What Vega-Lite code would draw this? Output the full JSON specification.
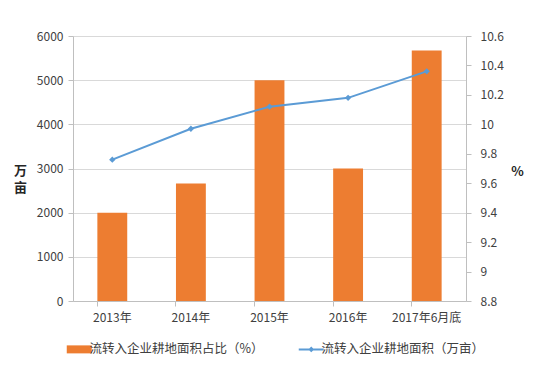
{
  "$schema": "https://vega.github.io/schema/vega-lite/v6.json",
  "width": 393,
  "height": 265,
  "autosize": {"type": "none"},
  "padding": {"left": 73, "top": 36, "right": 69, "bottom": 64},
  "background": "white",
  "config": {
    "view": {"stroke": null},
    "font": "Noto Sans CJK SC",
    "axis": {"labelFont": "Noto Sans CJK SC", "labelFontSize": 12, "labelColor": "#404040", "domainColor": "#bfbfbf", "tickColor": "#bfbfbf", "gridColor": "#d9d9d9", "titleColor": "#262626"},
    "legend": {"labelFont": "Noto Sans CJK SC", "labelFontSize": 12.5, "labelColor": "#404040", "labelLimit": 400}
  },
  "data": {
    "values": [
      {"year": "2013年", "area": 2000, "pct": 9.76},
      {"year": "2014年", "area": 2660, "pct": 9.97},
      {"year": "2015年", "area": 5000, "pct": 10.12},
      {"year": "2016年", "area": 3000, "pct": 10.18},
      {"year": "2017年6月底", "area": 5670, "pct": 10.36}
    ]
  },
  "encoding": {
    "x": {
      "field": "year", "type": "nominal", "sort": null,
      "scale": {"paddingInner": 0.62, "paddingOuter": 0.31},
      "axis": {"title": null, "labelAngle": 0, "bandPosition": 0, "tickSize": 5, "labelPadding": 6, "grid": false, "labelOffset": 0}
    }
  },
  "layer": [
    {
      "mark": {"type": "bar"},
      "encoding": {
        "y": {
          "field": "area", "type": "quantitative",
          "scale": {"domain": [0, 6000], "nice": false},
          "axis": {"values": [0, 1000, 2000, 3000, 4000, 5000, 6000], "format": "d", "grid": true, "tickSize": 5, "labelPadding": 5,
                   "title": ["万", "亩"], "titleAngle": 0, "titleFontSize": 13, "titleFontWeight": "bold", "titleLineHeight": 17, "titleAlign": "center", "titleBaseline": "middle", "titleX": -53, "titleY": 134}
        },
        "color": {
          "datum": "流转入企业耕地面积占比（%）",
          "scale": {"domain": ["流转入企业耕地面积占比（%）", "流转入企业耕地面积（万亩）"], "range": ["#ED7D31", "#5B9BD5"]},
          "legend": {
            "title": null, "orient": "bottom", "direction": "horizontal", "offset": 20, "columnPadding": 30, "labelOffset": 4,
            "symbolSize": 625,
            "encode": {
              "symbols": {
                "update": {
                  "shape": {"signal": "datum.value === '流转入企业耕地面积占比（%）' ? 'M-1,-0.32H1V0.32H-1Z' : 'M-1,0H1M-0.12,0L0,-0.12L0.12,0L0,0.12Z'"},
                  "fill": {"signal": "datum.value === '流转入企业耕地面积占比（%）' ? '#ED7D31' : '#5B9BD5'"},
                  "stroke": {"signal": "datum.value === '流转入企业耕地面积占比（%）' ? null : '#5B9BD5'"},
                  "strokeWidth": {"signal": "datum.value === '流转入企业耕地面积占比（%）' ? 0 : 2"},
                  "opacity": {"value": 1},
                  "fillOpacity": {"value": 1},
                  "size": {"value": 625}
                }
              }
            }
          }
        }
      }
    },
    {
      "encoding": {
        "y": {
          "field": "pct", "type": "quantitative",
          "scale": {"domain": [8.8, 10.6], "nice": false, "zero": false},
          "axis": {"orient": "right", "values": [8.8, 9, 9.2, 9.4, 9.6, 9.8, 10, 10.2, 10.4, 10.6], "format": "~g", "grid": false, "tickSize": 5, "labelPadding": 9,
                   "title": "%", "titleAngle": 0, "titleFontSize": 13, "titleFontWeight": "bold", "titleAlign": "center", "titleBaseline": "middle", "titleX": 51, "titleY": 135}
        }
      },
      "layer": [
        {
          "mark": {"type": "line", "strokeWidth": 2},
          "encoding": {"color": {"datum": "流转入企业耕地面积（万亩）"}}
        },
        {
          "mark": {"type": "point", "shape": "diamond", "filled": true, "size": 40, "color": "#5B9BD5", "opacity": 1}
        }
      ]
    }
  ],
  "resolve": {"scale": {"y": "independent"}}
}
